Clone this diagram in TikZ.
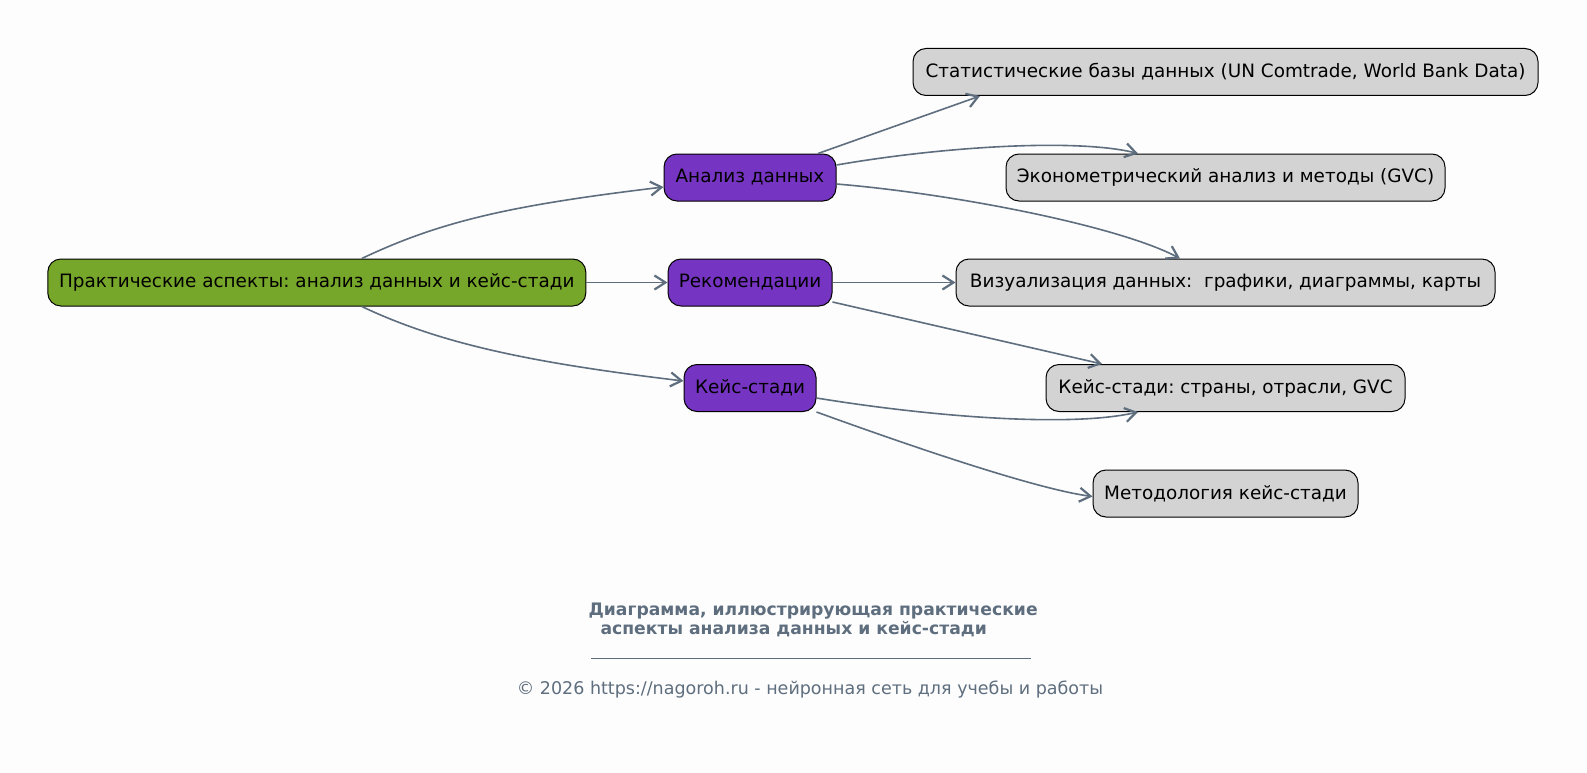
\documentclass[tikz,border=0pt]{standalone}
\usepackage{fontspec}
\setmainfont{DejaVu Sans}
\usetikzlibrary{arrows.meta}
\definecolor{rootgreen}{HTML}{77A72A}
\definecolor{midpurple}{HTML}{7634C2}
\definecolor{leafgray}{HTML}{D3D3D3}
\definecolor{edgeslate}{HTML}{5E6E7E}
\definecolor{bgwhite}{HTML}{FDFDFD}
\frenchspacing
\begin{document}
\begin{tikzpicture}[x=1pt, y=-1pt,
    box/.style={draw=black, line width=1pt, rounded corners=13pt, minimum height=47pt,
        inner xsep=10pt, text=black, font=\fontsize{18.4}{22}\selectfont},
    rootbox/.style={box, fill=rootgreen},
    midbox/.style={box, fill=midpurple},
    leafbox/.style={box, fill=leafgray},
    link/.style={draw=edgeslate, line width=1.6pt, -{Straight Barb[length=11pt,width=14pt,line width=2.2pt]}},
    caption/.style={text=edgeslate, font=\fontsize{17.5}{21}\selectfont}]
    \fill [bgwhite] (0,0) rectangle (1587,773);
    \useasboundingbox (0,0) rectangle (1587,773);
    % nodes
    \node [rootbox, minimum width=538pt] (root) at (316.8,282.5) {Практические аспекты: анализ данных и кейс-стади};
    \node [midbox, minimum width=172pt] (ana) at (750,177.5) {Анализ данных};
    \node [midbox, minimum width=164pt] (rek) at (750,282.5) {Рекомендации};
    \node [midbox, minimum width=132pt] (kei) at (750,388) {Кейс-стади};
    \node [leafbox, minimum width=625pt] (stat) at (1225.5,72) {Статистические базы данных (UN Comtrade, World Bank Data)};
    \node [leafbox, minimum width=439pt] (econ) at (1225.5,177.5) {Эконометрический анализ и методы (GVC)};
    \node [leafbox, minimum width=539pt] (vis) at (1225.5,282.5) {Визуализация данных: \ графики, диаграммы, карты};
    \node [leafbox, minimum width=359pt] (ks) at (1225.5,388) {Кейс-стади: страны, отрасли, GVC};
    \node [leafbox, minimum width=265pt] (met) at (1225.5,493.5) {Методология кейс-стади};
    % connectors
    \draw [link] ([xshift=45pt]root.north) .. controls +(80,-38) and +(-150,18) .. ([yshift=-9.5pt]ana.west);
    \draw [link] (root.east) -- (rek.west);
    \draw [link] ([xshift=45pt]root.south) .. controls +(80,38) and +(-150,-18) .. ([yshift=7pt]kei.west);
    \draw [link] ([xshift=68pt]ana.north) -- ([xshift=-245.5pt]stat.south);
    \draw [link] ([yshift=12.5pt]ana.east) .. controls +(110,-19) and +(-60,-15) .. ([xshift=-87.5pt]econ.north);
    \draw [link] ([yshift=-6.5pt]ana.east) .. controls +(120,10) and +(-60,-32) .. ([xshift=-45.5pt]vis.north);
    \draw [link] (rek.east) -- (vis.west);
    \draw [link] ([yshift=-19.5pt]rek.east) -- ([xshift=-123.5pt]ks.north);
    \draw [link] ([yshift=-10pt]kei.east) .. controls +(110,18) and +(-70,16) .. ([xshift=-87.5pt]ks.south);
    \draw [link] (kei.south east) .. controls +(80,29) and +(-60,-8) .. ([yshift=-3pt]met.west);
    % caption
    \node [caption, font=\fontsize{17.2}{21}\selectfont\bfseries, anchor=west] (capa) at (585,611.5) {Диаграмма, иллюстрирующая практические};
    \node [caption, font=\fontsize{17.2}{21}\selectfont\bfseries, anchor=west] (capb) at (597,629.5) {аспекты анализа данных и кейс-стади};
    \draw [edgeslate, line width=0.8pt] (591,658) -- (1031,658);
    \node [caption] (copy) at (810,689.5) {© 2026 https://nagoroh.ru - нейронная сеть для учебы и работы};
\end{tikzpicture}
\end{document}
